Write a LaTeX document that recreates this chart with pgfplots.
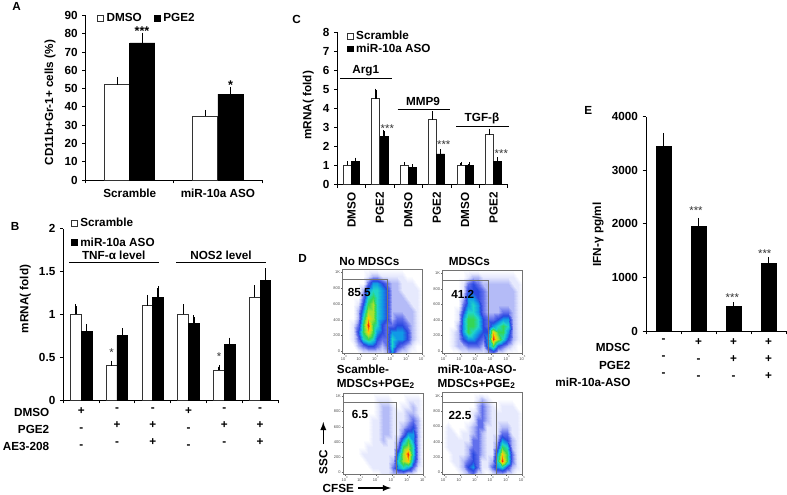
\documentclass[border=0pt]{standalone}
\usepackage{fontspec}
\setmainfont{Liberation Sans}
\usepackage{pgfplots}
\pgfplotsset{compat=1.18}

% pixel helpers: #1,#2 are pixel positions in the 787x494 reference
\newcommand{\lab}[4][]{\node[inner sep=0pt,font=\fs\bfseries,#1] at ({#2*0.75pt},{(494-#3)*0.75pt}) {#4};}
\newcommand{\hl}[3]{\draw[black,line width=0.9pt] ({#1*0.75pt},{(494-#3)*0.75pt}) -- ({#2*0.75pt},{(494-#3)*0.75pt});}
\newcommand{\fs}{\fontsize{8.8}{10.5}\selectfont}
\newcommand{\stars}[3]{\node[inner sep=0pt,font=\fontsize{8.5}{9}\selectfont,black!80] at ({#1*0.75pt},{(494-#2)*0.75pt}) {#3};}

\pgfplotsset{
  bars/.style={
    scale only axis,
    axis x line*=bottom, axis y line*=left,
    axis line style={black,line width=0.6pt},
    tick align=outside,
    tick style={black,line width=0.6pt},
    major tick length=2.5pt, minor tick length=2.5pt,
    major x tick style={draw=none},
    ymin=0,
    tick label style={font=\fs\bfseries},
    /pgf/number format/assume math mode=true,
    label style={font=\fs\bfseries},
    clip=false,
    legend cell align=left,
    legend style={draw=none,fill=none,font=\fs\bfseries,inner sep=0pt,outer sep=0pt,
      nodes={inner ysep=0.2pt}},
  },
  wbar/.style={ybar,fill=white,draw=black!80,line width=0.7pt,
    legend image code/.code={\draw[##1,line width=0.7pt] (0pt,-2.2pt) rectangle (4.4pt,2.2pt);},
    error bars/.cd,y dir=plus,y explicit,
    error bar style={black,line width=1pt},
    error mark options={black,mark size=1.2pt,line width=0.7pt}},
  kbar/.style={ybar,fill=black,draw=black,line width=0.5pt,
    legend image code/.code={\draw[##1,line width=0.7pt] (0pt,-2.2pt) rectangle (4.4pt,2.2pt);},
    error bars/.cd,y dir=plus,y explicit,
    error bar style={black,line width=1pt},
    error mark options={black,mark size=1.2pt,line width=0.7pt}},
  rows/.style={x tick label style={align=center,font=\fontsize{8.8}{12.75}\selectfont\bfseries}},
  flow/.style={
    scale only axis,
    axis on top,
    xmin=-0.1,xmax=5,ymin=-25,ymax=1040,
    xtick={0,1,2,3,4,5},
    xticklabels={10\textsuperscript{0},10\textsuperscript{1},10\textsuperscript{2},10\textsuperscript{3},10\textsuperscript{4},10\textsuperscript{5}},
    ytick={0,200,400,600,800,1000},
    yticklabels={0,200,400,600,800,1K},
    tick label style={font=\fontsize{3}{3.5}\selectfont,text=black!70,inner sep=0.6pt},
    major tick length=1.2pt,
    tick align=outside, tick pos=left,
    tick style={black!60,line width=0.3pt},
    axis line style={black!55,line width=0.5pt},
    point meta min=0,point meta max=10,
    colormap={flow}{color(0)=(white) color(1)=(fl1) color(2)=(fl2) color(3)=(fl3) color(4)=(fl4)
      color(5)=(fl5) color(6)=(fl6) color(7)=(fl7) color(8)=(fl8) color(9)=(fl9) color(10)=(fl10)},
  },
  dens/.style={surf,shader=interp,mesh/cols=17,point meta=explicit},
  table/dtab/.style={x expr={-0.1+mod(\coordindex,17)*5.1/16},y expr={-25+floor(\coordindex/17)*88.75},
    meta index=0,row sep=\\,header=false},
  gate/.style={black!55,line width=0.7pt,forget plot},
}
\definecolor{fl1}{HTML}{E6E9FD}
\definecolor{fl2}{HTML}{B4BBF7}
\definecolor{fl3}{HTML}{6270EC}
\definecolor{fl4}{HTML}{2A48E0}
\definecolor{fl5}{HTML}{109AE6}
\definecolor{fl6}{HTML}{1FD6C8}
\definecolor{fl7}{HTML}{35D655}
\definecolor{fl8}{HTML}{A6E22E}
\definecolor{fl9}{HTML}{FFCF00}
\definecolor{fl10}{HTML}{F02A10}

\begin{document}
\begin{tikzpicture}
\path[use as bounding box] (0,0) rectangle (590.25pt,370.5pt);

% ---------- A
\begin{axis}[bars,
  at={(64.3pt,235.5pt)},anchor=south west,
  width=132.2pt,height=123.4pt,
  xmin=-0.5,xmax=1.5,ymax=90,
  ybar=0pt,bar width=18.75pt,
  xtick={0,1},xticklabels={Scramble,miR-10a ASO},
  minor xtick={-0.5,0.5,1.5},
  ytick={0,10,...,90},
  ylabel={CD11b+Gr-1+ cells (\%)},
  ylabel style={at={(axis description cs:-0.145,0.47)}},
  x tick label style={yshift=-0.4pt},
  legend columns=2,
  legend style={at={(axis description cs:0.065,1.015)},anchor=north west,
    /tikz/every even column/.append style={column sep=7pt}},
]
\addplot+[wbar] coordinates {(0,52) +- (0,3.5) (1,35) +- (0,2.5)};
\addlegendentry{DMSO}
\addplot+[kbar] coordinates {(0,75) +- (0,4.8) (1,47) +- (0,3.2)};
\addlegendentry{PGE2}
\end{axis}
\lab{16.7}{6}{A}
\node[inner sep=0pt,font=\fontsize{9.5}{10}\selectfont\bfseries] at ({142*0.75pt},{(494-31)*0.75pt}) {***};
\node[inner sep=0pt,font=\fontsize{9.5}{10}\selectfont\bfseries] at ({230.7*0.75pt},{(494-85)*0.75pt}) {*};

% ---------- B
\begin{axis}[bars,rows,
  at={(47.5pt,70.5pt)},anchor=south west,
  width=161pt,height=128.5pt,
  xmin=-0.5,xmax=5.5,ymax=2,
  ybar=0pt,bar width=8pt,
  xtick={0,...,5},
  xticklabels={{+\\-\\-},{-\\+\\-},{-\\+\\+},{+\\-\\-},{-\\+\\-},{-\\+\\+}},
  minor xtick={-0.5,0.5,...,5.5},
  ytick={0,0.5,1,1.5,2},
  ylabel={mRNA( fold)},
  ylabel style={at={(axis description cs:-0.13,0.59)}},
  legend style={at={(axis description cs:0.035,1.065)},anchor=north west,
    /tikz/row sep=6.5pt},
]
\addplot+[wbar] coordinates {(0,1) +- (0,0.1) (1,0.4) +- (0,0.04) (2,1.1) +- (0,0.11)
  (3,1) +- (0,0.1) (4,0.35) +- (0,0.04) (5,1.2) +- (0,0.12)};
\addlegendentry{Scramble}
\addplot+[kbar] coordinates {(0,0.8) +- (0,0.07) (1,0.75) +- (0,0.07) (2,1.2) +- (0,0.11)
  (3,0.89) +- (0,0.08) (4,0.65) +- (0,0.06) (5,1.4) +- (0,0.12)};
\addlegendentry{miR-10a ASO}
\end{axis}
\lab{15}{226.7}{B}
\hl{69}{159}{262.7}\hl{176}{266}{262.7}
\lab{113.7}{255.7}{TNF-α level}
\lab{221}{255.7}{NOS2 level}
\stars{111.7}{353}{*}\stars{219}{357}{*}
\lab[anchor=east]{49.5}{412}{DMSO}
\lab[anchor=east]{49.5}{429.3}{PGE2}
\lab[anchor=east]{49.5}{446.7}{AE3-208}

% ---------- C
\begin{axis}[bars,
  at={(253pt,232.3pt)},anchor=south west,
  width=127.8pt,height=114pt,
  xmin=-0.5,xmax=5.5,ymax=8,
  ybar=0pt,bar width=6pt,
  xtick={0,...,5},
  xticklabels={DMSO,PGE2,DMSO,PGE2,DMSO,PGE2},
  x tick label style={rotate=90,anchor=east,yshift=0pt},
  minor xtick={-0.5,0.5,...,5.5},
  ytick={0,1,...,8},
  ylabel={mRNA( fold)},
  ylabel style={at={(axis description cs:-0.11,0.52)}},
  legend style={at={(axis description cs:0.055,1.01)},anchor=north west,
    /tikz/row sep=1.2pt},
]
\addplot+[wbar] coordinates {(0,1) +- (0,0.12) (1,4.5) +- (0,0.45) (2,1) +- (0,0.1)
  (3,3.4) +- (0,0.35) (4,1) +- (0,0.1) (5,2.6) +- (0,0.25)};
\addlegendentry{Scramble}
\addplot+[kbar] coordinates {(0,1.2) +- (0,0.12) (1,2.5) +- (0,0.28) (2,0.9) +- (0,0.08)
  (3,1.6) +- (0,0.17) (4,1) +- (0,0.08) (5,1.2) +- (0,0.13)};
\addlegendentry{miR-10a ASO}
\end{axis}
\lab{296.7}{19}{C}
\hl{340}{392}{78.7}\hl{397.7}{450}{109.7}\hl{456}{508.7}{126.3}
\lab{365.7}{70.7}{Arg1}
\lab{423}{101.7}{MMP9}
\lab{482}{118.3}{TGF-β}
\stars{387.3}{129}{***}\stars{443.7}{145}{***}\stars{501.3}{154}{***}

% ---------- D
\begin{axis}[flow,at={(257pt,105.5pt)},anchor=south west,width=59.7pt,height=63pt]
\addplot[dens] table[dtab] {
0\\0\\0\\0\\1\\1\\1\\1\\1\\2\\5\\2\\1\\1\\0\\0\\0\\
0\\0\\0\\2\\3\\4\\4\\3\\2\\3\\6\\4\\3\\2\\1\\0\\0\\
0\\0\\1\\3\\6\\7\\6\\4\\3\\3\\6\\5\\5\\4\\2\\1\\0\\
0\\0\\1\\4\\7\\9\\7\\5\\4\\3\\5\\5\\5\\4\\2\\1\\0\\
0\\0\\1\\3\\7\\10\\7\\6\\4\\3\\3\\4\\4\\3\\2\\1\\0\\
0\\0\\0\\2\\6\\9\\8\\6\\5\\4\\2\\3\\3\\2\\2\\1\\0\\
0\\0\\0\\2\\5\\8\\8\\6\\5\\4\\2\\2\\2\\2\\2\\1\\0\\
0\\0\\0\\1\\4\\7\\8\\6\\5\\4\\2\\2\\2\\2\\1\\1\\0\\
0\\0\\0\\0\\3\\6\\7\\6\\5\\4\\2\\2\\2\\1\\1\\1\\0\\
0\\0\\0\\0\\2\\5\\6\\6\\5\\4\\2\\2\\1\\1\\1\\1\\0\\
0\\0\\0\\0\\0\\3\\5\\5\\4\\3\\2\\2\\1\\1\\1\\0\\0\\
0\\0\\0\\0\\0\\1\\2\\2\\1\\1\\1\\1\\1\\0\\0\\0\\0\\
0\\0\\0\\0\\0\\0\\0\\0\\0\\0\\0\\0\\0\\0\\0\\0\\0\\
};
\addplot[gate] coordinates {(-0.1,913) (2.78,913) (2.78,-25)};
\end{axis}

\begin{axis}[flow,at={(332pt,105.7pt)},anchor=south west,width=60pt,height=62pt]
\addplot[dens] table[dtab] {
0\\0\\0\\0\\1\\1\\1\\1\\1\\2\\3\\1\\1\\0\\0\\0\\0\\
0\\0\\1\\2\\2\\3\\3\\3\\2\\5\\7\\4\\3\\2\\1\\0\\0\\
0\\0\\1\\2\\4\\5\\5\\4\\3\\5\\10\\8\\6\\4\\2\\1\\0\\
0\\0\\1\\2\\5\\7\\6\\5\\4\\4\\9\\7\\7\\5\\2\\1\\0\\
0\\0\\0\\2\\5\\7\\7\\6\\4\\3\\5\\6\\7\\6\\2\\1\\0\\
0\\0\\0\\1\\5\\7\\7\\6\\4\\3\\3\\4\\5\\5\\2\\1\\0\\
0\\0\\0\\1\\4\\6\\6\\5\\3\\2\\2\\2\\3\\3\\2\\1\\0\\
0\\0\\0\\0\\3\\5\\6\\5\\3\\2\\2\\2\\2\\2\\2\\1\\0\\
0\\0\\0\\0\\2\\5\\5\\4\\3\\2\\2\\2\\2\\2\\2\\1\\0\\
0\\0\\0\\0\\1\\4\\4\\4\\3\\2\\2\\2\\2\\2\\2\\1\\0\\
0\\0\\0\\0\\1\\3\\4\\3\\2\\2\\2\\2\\2\\2\\1\\1\\0\\
0\\0\\0\\0\\0\\1\\2\\2\\1\\1\\1\\1\\1\\1\\1\\0\\0\\
0\\0\\0\\0\\0\\0\\0\\0\\0\\0\\0\\0\\0\\0\\0\\0\\0\\
};
\addplot[gate] coordinates {(-0.1,911) (2.81,911) (2.81,-25)};
\end{axis}

\begin{axis}[flow,at={(257.5pt,14.8pt)},anchor=south west,width=60pt,height=60.8pt]
\addplot[dens] table[dtab] {
0\\0\\0\\0\\0\\0\\0\\0\\1\\1\\2\\2\\2\\1\\1\\0\\0\\
0\\0\\0\\0\\0\\0\\1\\1\\1\\1\\3\\5\\6\\5\\3\\1\\0\\
0\\0\\0\\0\\0\\1\\1\\1\\1\\1\\2\\6\\8\\9\\5\\2\\0\\
0\\0\\0\\0\\1\\1\\1\\1\\1\\1\\1\\5\\8\\10\\6\\2\\0\\
0\\0\\0\\0\\0\\1\\1\\1\\1\\1\\1\\3\\7\\8\\6\\2\\0\\
0\\0\\0\\0\\0\\0\\1\\1\\2\\1\\1\\2\\5\\7\\5\\2\\0\\
0\\0\\0\\0\\0\\0\\1\\1\\2\\2\\1\\1\\3\\5\\5\\2\\0\\
0\\0\\0\\0\\0\\0\\1\\1\\2\\2\\1\\1\\2\\3\\4\\2\\0\\
0\\0\\0\\0\\0\\0\\1\\1\\2\\2\\1\\1\\1\\2\\3\\2\\0\\
0\\0\\0\\0\\0\\0\\0\\1\\2\\2\\1\\1\\1\\2\\2\\1\\0\\
0\\0\\0\\0\\0\\0\\0\\1\\2\\2\\1\\0\\1\\1\\2\\1\\0\\
0\\0\\0\\0\\0\\0\\0\\1\\1\\1\\0\\0\\0\\1\\1\\1\\0\\
0\\0\\0\\0\\0\\0\\0\\0\\0\\0\\0\\0\\0\\0\\0\\0\\0\\
};
\addplot[gate] coordinates {(-0.1,916) (3.3,916) (3.3,-25)};
\end{axis}

\begin{axis}[flow,at={(332pt,14.8pt)},anchor=south west,width=59.7pt,height=61.2pt]
\addplot[dens] table[dtab] {
0\\0\\0\\0\\1\\2\\3\\1\\1\\0\\1\\2\\2\\1\\1\\0\\0\\
0\\0\\0\\1\\2\\4\\5\\3\\1\\1\\3\\5\\6\\4\\2\\1\\0\\
0\\0\\1\\1\\2\\3\\4\\3\\1\\1\\2\\6\\10\\7\\3\\1\\0\\
0\\0\\1\\1\\1\\2\\4\\3\\2\\1\\1\\5\\9\\7\\3\\1\\0\\
0\\1\\1\\1\\1\\2\\3\\3\\2\\1\\1\\3\\7\\6\\2\\1\\0\\
0\\1\\1\\1\\1\\1\\3\\3\\2\\1\\1\\2\\5\\4\\2\\1\\0\\
0\\1\\1\\0\\1\\1\\2\\3\\2\\1\\1\\1\\3\\3\\1\\1\\0\\
0\\1\\0\\0\\0\\1\\2\\3\\3\\1\\1\\1\\2\\2\\1\\1\\0\\
0\\0\\0\\0\\0\\0\\1\\3\\3\\2\\1\\1\\1\\1\\1\\1\\0\\
0\\0\\0\\0\\0\\0\\1\\2\\3\\2\\1\\1\\1\\1\\1\\1\\0\\
0\\0\\0\\0\\0\\0\\0\\2\\3\\2\\1\\0\\1\\1\\1\\0\\0\\
0\\0\\0\\0\\0\\0\\0\\1\\2\\1\\0\\0\\0\\0\\0\\0\\0\\
0\\0\\0\\0\\0\\0\\0\\0\\0\\0\\0\\0\\0\\0\\0\\0\\0\\
};
\addplot[gate] coordinates {(-0.1,915) (3.33,915) (3.33,-25)};
\end{axis}

\lab{302.7}{258}{D}
\lab{369.3}{261.7}{No MDSCs}
\lab{469.3}{261.7}{MDSCs}
\lab[anchor=west]{336.7}{369.3}{Scamble-}
\lab[anchor=west]{336.7}{384}{MDSCs+PGE\textsubscript{2}}
\lab[anchor=west]{437.3}{369.3}{miR-10a-ASO-}
\lab[anchor=west]{437.3}{384}{MDSCs+PGE\textsubscript{2}}
\lab{359.3}{292.3}{85.5}
\lab{462.7}{294}{41.2}
\lab{360}{414}{6.5}
\lab{460}{415.7}{22.5}
\lab[rotate=90]{323.3}{462}{SSC}
\lab{338.3}{488.6}{CFSE}
\draw[-latex,line width=1.1pt] ({323.3*0.75pt},{(494-444)*0.75pt}) -- ({323.3*0.75pt},{(494-422)*0.75pt});
\draw[-latex,line width=1.1pt] ({358*0.75pt},{(494-488)*0.75pt}) -- ({391*0.75pt},{(494-488)*0.75pt});

% ---------- E
\begin{axis}[bars,rows,
  at={(484.5pt,122.2pt)},anchor=south west,
  width=105pt,height=160.8pt,
  xmin=-0.5,xmax=3.5,ymax=4000,
  ybar=0pt,bar width=11pt,
  xtick={0,...,3},
  xticklabels={{-\\-\\-},{+\\-\\-},{+\\+\\-},{+\\+\\+}},
  minor xtick={-0.5,0.5,...,3.5},
  ytick={0,1000,...,4000},
  /pgf/number format/1000 sep={},
  ylabel={IFN-γ pg/ml},
  ylabel style={at={(axis description cs:-0.27,0.45)}},
]
\addplot+[kbar] coordinates {(0,3440) +- (0,230) (1,1950) +- (0,134) (2,460) +- (0,44) (3,1265) +- (0,91)};
\end{axis}
\lab{588.3}{110.7}{E}
\stars{696}{211}{***}\stars{732.3}{298}{***}\stars{764.7}{253.7}{***}
\lab[anchor=east]{630.7}{347}{MDSC}
\lab[anchor=east]{630.7}{365}{PGE2}
\lab[anchor=east]{630.7}{382}{miR-10a-ASO}
\end{tikzpicture}
\end{document}
